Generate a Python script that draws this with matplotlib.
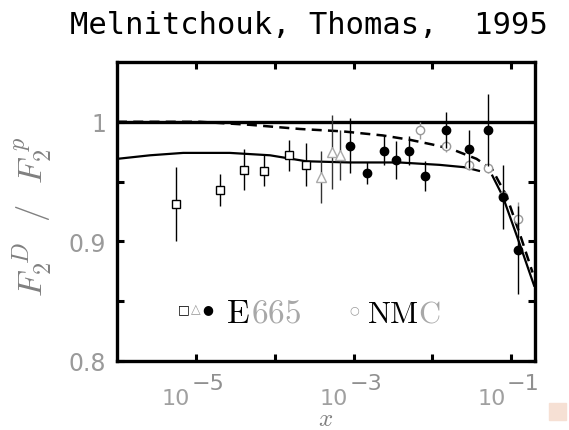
import matplotlib
matplotlib.use('Agg')
import matplotlib.pyplot as plt
import matplotlib.patches as mpatches
import matplotlib.transforms as mtransforms
import numpy as np

plt.rcParams['mathtext.fontset'] = 'cm'

# E665 squares
sq_x = [10**-5.25, 10**-4.69, 10**-4.39, 10**-4.13, 10**-3.82, 10**-3.60]
sq_y = [0.931, 0.943, 0.960, 0.959, 0.972, 0.964]
sq_e = [0.031, 0.013, 0.017, 0.013, 0.013, 0.018]
# E665 triangles
tr_x = [10**-3.41, 10**-3.27, 10**-3.17]
tr_y = [0.954, 0.975, 0.972]
tr_e = [0.022, 0.031, 0.021]
# E665 filled circles
fc_x = [10**-3.05, 10**-2.83, 10**-2.61, 10**-2.46, 10**-2.30, 10**-2.10,
        10**-1.83, 10**-1.53, 10**-1.30, 10**-1.10, 10**-0.91]
fc_y = [0.980, 0.957, 0.976, 0.968, 0.976, 0.955, 0.993, 0.977, 0.993, 0.937, 0.893]
fc_e = [0.023, 0.009, 0.0125, 0.016, 0.0125, 0.0125, 0.015, 0.016, 0.030, 0.027, 0.037]
# NMC open circles
nmc_x = [10**-2.16, 10**-1.83, 10**-1.53, 10**-1.30, 10**-1.10, 10**-0.91]
nmc_y = [0.993, 0.980, 0.964, 0.961, 0.938, 0.919]
nmc_e = [0.007, 0.005, 0.004, 0.004, 0.005, 0.014]

# model curves
sol1_x = [1e-6, 10**-5.58, 10**-5.16, 10**-4.57, 10**-4.06, 10**-3.6, 10**-3.05,
          10**-2.42, 10**-1.91, 10**-1.59, 10**-1.41]
sol1_y = [0.969, 0.972, 0.974, 0.974, 0.972, 0.967, 0.966, 0.966, 0.964, 0.962, 0.959]
sol2_x = [10**-1.24, 10**-1.11, 10**-0.91, 10**-0.71]
sol2_y = [0.955, 0.938, 0.901, 0.863]
dash_x = [1e-6, 10**-4.95, 10**-4.32, 10**-3.68, 10**-3.14, 10**-2.63, 10**-2.29,
          10**-2.0, 10**-1.75, 10**-1.44, 10**-1.24, 10**-1.06, 10**-0.87, 10**-0.73]
dash_y = [1.0, 1.0, 0.9975, 0.994, 0.992, 0.9886, 0.985, 0.981, 0.977, 0.969,
          0.960, 0.938, 0.902, 0.874]

xticks = [1e-5, 1e-4, 1e-3, 1e-2, 1e-1]
xlab_ticks = [1e-5, 1e-3, 1e-1]
xlab_exp = [u'\u22125', u'\u22123', u'\u22121']
yticks = [0.8, 0.85, 0.9, 0.95, 1.0]
ylabels = ['0.8', '', '0.9', '', '1']

W, H = 569, 431
fig = plt.figure(figsize=(W / 100, H / 100), dpi=100)
ax = fig.add_axes([117 / W, (H - 362) / H, (535 - 117) / W, (362 - 63) / H])
ax.set_xscale('log')
ax.set_xlim(1e-6, 0.2)
ax.set_ylim(0.8, 1.05)

ax.axhline(1.0, color='black', lw=2.4, zorder=2)
ax.plot(dash_x, dash_y, color='black', lw=1.8, ls=(0, (4, 2.5)), zorder=2)
ax.plot(sol1_x, sol1_y, color='black', lw=1.6, zorder=2)
ax.plot(sol2_x, sol2_y, color='black', lw=1.6, zorder=2)

ax.errorbar(nmc_x, nmc_y, yerr=nmc_e, fmt='o', ms=6, mfc='white', mec='#999999',
            mew=1.0, ecolor='#999999', elinewidth=1.0, capsize=0, zorder=3)
ax.errorbar(sq_x, sq_y, yerr=sq_e, fmt='s', ms=6, mfc='white', mec='black',
            mew=1.0, ecolor='black', elinewidth=1.0, capsize=0, zorder=3)
ax.errorbar(tr_x, tr_y, yerr=tr_e, fmt='^', ms=6.5, mfc='white', mec='#aaaaaa',
            mew=1.0, ecolor='#333333', elinewidth=1.0, capsize=0, zorder=3)
ax.errorbar(fc_x, fc_y, yerr=fc_e, fmt='o', ms=6, mfc='black', mec='black',
            ecolor='black', elinewidth=1.0, capsize=0, zorder=4)

ax.set_xticks(xticks)
ax.set_xticklabels([''] * len(xticks))
ax.xaxis.set_minor_locator(matplotlib.ticker.NullLocator())
ax.set_yticks(yticks)
ax.set_yticklabels(ylabels)
ax.tick_params(direction='in', length=5, width=2.2, top=True, right=True,
               labelsize=17, labelcolor='#9a9a9a', pad=8)
for s in ax.spines.values():
    s.set_linewidth(2.4)

# x tick labels: "10" plus a full-size raised exponent
trans = mtransforms.blended_transform_factory(ax.transData, fig.transFigure)
for xt, ex in zip(xlab_ticks, xlab_exp):
    ax.annotate('10', xy=(xt, 1 - 405 / H), xycoords=trans, xytext=(-4, 0),
                textcoords='offset points', ha='right', va='baseline',
                fontsize=16, color='#a0a0a0', annotation_clip=False)
    ax.annotate(ex, xy=(xt, 1 - 390 / H), xycoords=trans, xytext=(-3, 0),
                textcoords='offset points', ha='left', va='baseline',
                fontsize=16, color='#909090', annotation_clip=False)

# legend drawn inside the axes
fig.text(184 / W, 1 - 310 / H, u'\u25a1', ha='center', va='center', fontsize=9, color='black')
fig.text(196 / W, 1 - 310 / H, u'\u25b3', ha='center', va='center', fontsize=9, color='#999999')
fig.text(208 / W, 1 - 310 / H, u'\u25cf', ha='center', va='center', fontsize=9, color='black')
fig.text(226 / W, 1 - 323 / H, r'$\mathrm{E}$', fontsize=24, color='black', va='baseline')
fig.text(251 / W, 1 - 323 / H, r'$\mathrm{665}$', fontsize=24, color='#a8a8a8', va='baseline')
fig.text(354 / W, 1 - 310 / H, u'\u25cb', ha='center', va='center', fontsize=8, color='#999999')
fig.text(367 / W, 1 - 323 / H, r'$\mathrm{NM}$', fontsize=22, color='black', va='baseline')
fig.text(418 / W, 1 - 323 / H, r'$\mathrm{C}$', fontsize=22, color='#a8a8a8', va='baseline')

fig.text(33 / W, 1 - 217 / H, r'$F_2^{\ D}\ \ /\ \ F_2^{\ p}$', rotation=90, ha='center',
         va='center', fontsize=25, color='#808080')
fig.text(326 / W, 1 - 426 / H, r'$x$', ha='center', va='baseline', fontsize=18, color='#808080')
fig.text(70 / W, 1 - 34 / H, 'Melnitchouk, Thomas,  1995', family='DejaVu Sans Mono',
         fontsize=22, color='black', va='baseline')

fig.patches.append(mpatches.Rectangle((549 / W, 1 - 421 / H), 17 / W, 17 / H,
                                      transform=fig.transFigure, color='#f6e0d4'))

fig.savefig('out.png', dpi=100)
